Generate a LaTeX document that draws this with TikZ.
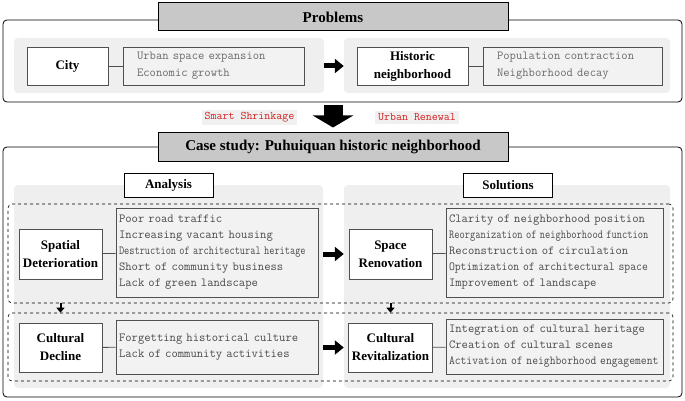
\documentclass[tikz,border=0pt]{standalone}
\usepackage{fontspec}
\setmainfont{Liberation Serif}
\usepackage{graphicx}
\usetikzlibrary{arrows.meta,positioning}

\definecolor{titlegray}{HTML}{C8C8C8}
\definecolor{panelgray}{HTML}{EFEFEF}
\definecolor{listgray}{HTML}{F2F2F2}
\definecolor{boxline}{HTML}{505050}
\definecolor{listtext}{HTML}{4A4A4A}
\definecolor{softtext}{HTML}{6A6A6A}
\definecolor{tagred}{HTML}{D42020}
\definecolor{taggray}{HTML}{F0F0F0}

\newcommand{\squeeze}[2]{\scalebox{#1}[1]{#2}}

\begin{document}
\begin{tikzpicture}[x=1pt,y=-1pt,
    frame/.style={draw,rounded corners=4pt,line width=0.8pt},
    titlebox/.style={draw,fill=titlegray,line width=1pt,minimum width=350pt,minimum height=28pt,
                     font=\fontsize{15}{18}\selectfont\bfseries},
    panel/.style={fill=panelgray,rounded corners=4pt},
    dashbox/.style={draw,dashed,rounded corners=4pt,line width=0.6pt,minimum width=665pt},
    headbox/.style={draw,fill=white,line width=0.8pt,minimum width=89pt,minimum height=24pt,
                    font=\fontsize{13}{16}\selectfont\bfseries},
    keybox/.style={draw=boxline,fill=white,line width=0.9pt,minimum width=83pt,align=center,
                   font=\fontsize{13}{18}\selectfont\bfseries},
    listbox/.style={draw=boxline,fill=listgray,line width=0.9pt,align=left,inner sep=3pt,
                    text=listtext,font=\fontsize{12.3}{16}\selectfont\ttfamily},
    softlist/.style={listbox,inner xsep=14pt,text=softtext,font=\fontsize{12.3}{17}\selectfont\ttfamily},
    tag/.style={fill=taggray,text=tagred,inner xsep=3pt,inner ysep=2.5pt,
                font=\fontsize{11.6}{13}\selectfont\ttfamily},
    linkline/.style={draw=boxline,line width=0.8pt},
    blockarrow/.style={line width=5pt,-{Triangle[width=14pt,length=9pt]}},
    bigarrow/.style={line width=19pt,-{Triangle[width=40pt,length=12pt]}},
    smallarrow/.style={line width=2pt,-{Triangle[width=8pt,length=5pt]}}]
  \useasboundingbox (0,0) rectangle (685,401);

  % ---- problems
  \node[frame,minimum width=679pt,minimum height=82pt] (probframe) at (342.5,61) {};
  \node[panel,minimum width=310pt,minimum height=55pt] (probL) at (169,65.5) {};
  \node[panel,minimum width=326pt,minimum height=55pt] (probR) at (507,65.5) {};
  \node[titlebox] (probtitle) at (333,17) {Problems};

  \node[keybox,minimum width=81pt,minimum height=38pt] (city) at (67.5,66) {City};
  \node[softlist,text width=153pt,minimum height=38pt] (citytext) at (213.5,66)
    {Urban space expansion\\Economic growth};
  \node[keybox,minimum width=111pt,minimum height=38pt] (hist) at (412.5,66)
    {Historic\\neighborhood};
  \node[softlist,text width=151pt,minimum height=38pt] (histtext) at (572.5,66)
    {Population contraction\\Neighborhood decay};

  \path[linkline] (city) -- (citytext)
                  (hist) -- (histtext);
  \draw[blockarrow] (probL.east |- city) -- (probR.west |- hist);

  % ---- transition
  \node[tag] (shrink) at (249.5,117.5) {Smart Shrinkage};
  \node[tag] (renew)  at (417,117.5)   {Urban Renewal};

  % ---- case study
  \node[frame,minimum width=679pt,minimum height=250pt] (caseframe) at (342.5,272) {};
  \node[panel,minimum width=309pt,minimum height=203pt] (caseL) at (168.5,286.5) {};
  \node[panel,minimum width=326pt,minimum height=203pt] (caseR) at (507,286.5) {};
  \node[titlebox] (casetitle) at (333,147) {Case study: Puhuiquan historic neighborhood};
  \draw[bigarrow,shorten <=3pt,shorten >=5pt] (probframe.south -| casetitle) -- (casetitle.north);

  \node[headbox] (analysis)  at (168.5,185) {Analysis};
  \node[headbox] (solutions) at (508,185)   {Solutions};

  \node[dashbox,minimum height=99pt] (dashA) at (340.5,253.5) {};
  \node[dashbox,minimum height=68pt] (dashB) at (340.5,347) {};

  \node[keybox,minimum height=50pt] (spatial) at (60.5,254) {Spatial\\Deterioration};
  \node[listbox,text width=196pt,minimum height=89pt] (spatialtext) at (217,252.5)
    {Poor road traffic\\
     Increasing vacant housing\\
     \squeeze{0.82}{Destruction of architectural heritage}\\
     Short of community business\\
     Lack of green landscape};

  \node[keybox,minimum height=50pt] (space) at (390.5,254) {Space\\Renovation};
  \node[listbox,text width=211pt,minimum height=89pt] (spacetext) at (554.5,252.5)
    {Clarity of neighborhood position\\
     \squeeze{0.83}{Reorganization of neighborhood function}\\
     Reconstruction of circulation\\
     \squeeze{0.925}{Optimization of architectural space}\\
     Improvement of landscape};

  \node[keybox,minimum height=49pt] (decline) at (60.5,347.5) {Cultural\\Decline};
  \node[listbox,text width=196pt,minimum height=54pt] (declinetext) at (217,347)
    {Forgetting historical culture\\
     Lack of community activities};

  \node[keybox,minimum height=49pt] (revital) at (390.5,347.5) {Cultural\\Revitalization};
  \node[listbox,text width=211pt,minimum height=55pt] (revitaltext) at (554.5,346.5)
    {Integration of cultural heritage\\
     Creation of cultural scenes\\
     \squeeze{0.92}{Activation of neighborhood engagement}};

  \path[linkline] (spatial) -- (spatialtext)
                  (space) -- (spacetext)
                  (decline) -- (declinetext)
                  (revital) -- (revitaltext);

  \draw[blockarrow] (caseL.east |- spatial) -- (caseR.west |- space);
  \draw[blockarrow] (caseL.east |- decline) -- (caseR.west |- revital);

  \draw[smallarrow] (spatial |- dashA.south) -- (decline |- dashB.north);
  \draw[smallarrow] (space |- dashA.south) -- (revital |- dashB.north);
\end{tikzpicture}
\end{document}
